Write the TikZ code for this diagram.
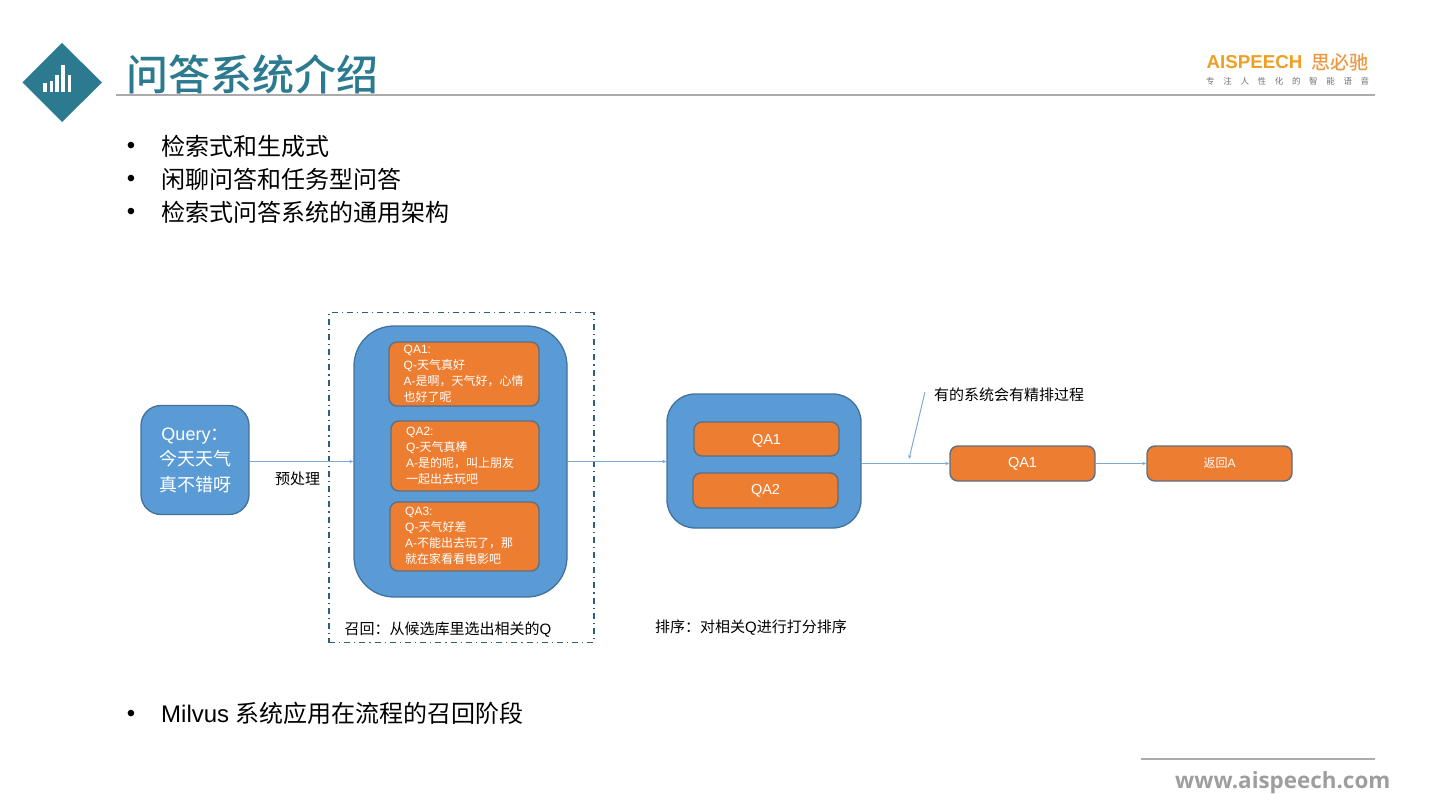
\documentclass[tikz,border=0pt]{standalone}
\usepackage{fontspec}
\setmainfont{Liberation Sans}
\newfontfamily\cj[BoldFont={Noto Sans CJK SC Medium}]{Noto Sans CJK SC}
\newfontfamily\webf{Open Sans}
\newcommand{\zh}[1]{{\cj #1}}
\newcommand{\fsz}[2]{\fontsize{#1}{#2}\selectfont}
\usetikzlibrary{arrows.meta}
\definecolor{teal1}{HTML}{2B7A90}
\definecolor{blue1}{HTML}{5B9BD5}
\definecolor{blueedge}{HTML}{41719C}
\definecolor{orange1}{HTML}{ED7D31}
\definecolor{orangeedge}{HTML}{5F6F80}
\definecolor{ruleg}{HTML}{ABABAB}
\definecolor{linkc}{HTML}{7FAAD0}
\definecolor{dashc}{HTML}{2F5F80}
\tikzset{
  x=1pt,y=-1pt,
  bluebox/.style={draw=blueedge,fill=blue1,line width=1.3pt,inner sep=0pt,text=white},
  orbox/.style={draw=orangeedge,fill=orange1,line width=1.4pt,inner sep=0pt,text=white,rounded corners=8pt},
  qatext/.style={align=left,font=\fsz{12}{15.9}},
  link/.style={draw=linkc,line width=1pt,-{Stealth[length=4pt,width=3.5pt]}},
  bullet/.style={anchor=base,font=\fsz{24}{24}},
  bullettext/.style={anchor=base west,inner sep=0pt,font=\fsz{24}{24}},
  lbl/.style={anchor=base west,inner sep=0pt,font=\fsz{15}{15},text=black},
}
\begin{document}
\begin{tikzpicture}
\useasboundingbox (0,0) rectangle (1440,810);
% header
\fill[teal1] (62,43) -- (102,82.5) -- (62,122) -- (22.5,82.5) -- cycle;
\foreach \a/\b/\t in {42.7/46.7/82.7,50/53.3/80.7,55.3/58.7/75.3,61.3/64.7/65,68/71.3/75.3}{\fill[white] (\a,91.7) rectangle (\b,\t);}
\node[anchor=base west,inner sep=0pt,text=teal1,font=\fsz{42}{42}\bfseries] (title) at (126,91) {\zh{问答系统介绍}};
\coordinate (ruleL) at (116,95.3);
\coordinate (ruleR) at (1375,95.3);
\draw[ruleg,line width=1.7pt] (ruleL) -- (ruleR);
% logo
\node[anchor=base west,inner sep=0pt,text=orange1!75!yellow,font=\fsz{18.7}{18.7}\bfseries] (logoA) at (1206.5,69) {AISPEECH};
\node[anchor=base west,inner sep=0pt,text=orange!60!brown!80!white,font=\fsz{19}{19}\bfseries] (logoB) at (1311,69.5) {\zh{思必驰}};
\node[anchor=base west,inner sep=0pt,text=black!55,font=\fsz{8.5}{8.5}] (logoC) at (1206,84.5) {\makebox[163pt][s]{\zh{专\hfill 注\hfill 人\hfill 性\hfill 化\hfill 的\hfill 智\hfill 能\hfill 语\hfill 音}}};
% bullets
\node[bullet] (b1) at (131,154) {•};
\node[bullet] (b2) at (131,187) {•};
\node[bullet] (b3) at (131,220) {•};
\node[bullet] (b4) at (131,721) {•};
\node[bullettext] (t1) at (161,156) {\zh{检索式和生成式}};
\node[bullettext] (t2) at (161,189) {\zh{闲聊问答和任务型问答}};
\node[bullettext] (t3) at (161,222) {\zh{检索式问答系统的通用架构}};
\node[bullettext] (t4) at (161,722) {Milvus \zh{系统应用在流程的召回阶段}};
% dashed frame
\node[draw=dashc,line width=1.4pt,dash pattern=on 6pt off 4pt on 1.2pt off 4pt,minimum width=265pt,minimum height=330pt,inner sep=0pt] (frame) at (461.5,477.5) {};
% query
\node[bluebox,rounded corners=20pt,minimum width=108pt,minimum height=109pt,align=center,font=\fsz{18}{25.5}] (q) at (195,460) {Query\zh{：}\\\zh{今天天气}\\\zh{真不错呀}};
% recall
\node[bluebox,rounded corners=40pt,minimum width=213pt,minimum height=271pt] (big) at (460.5,461.5) {};
\node[orbox,minimum width=150pt,minimum height=64pt] (a1) at (464,374) {};
\node[qatext,anchor=west,inner sep=0pt,text=white] (a1t) at (403.5,373.5) {QA1:\\Q-\zh{天气真好}\\A-\zh{是啊，天气好，心情}\\\zh{也好了呢}};
\node[orbox,minimum width=148pt,minimum height=70pt] (a2) at (465,456) {};
\node[qatext,anchor=west,inner sep=0pt,text=white] (a2t) at (406,456) {QA2:\\Q-\zh{天气真棒}\\A-\zh{是的呢，叫上朋友}\\\zh{一起出去玩吧}};
\node[orbox,minimum width=149pt,minimum height=69pt] (a3) at (464.5,536.5) {};
\node[qatext,anchor=west,inner sep=0pt,text=white] (a3t) at (405,535.5) {QA3:\\Q-\zh{天气好差}\\A-\zh{不能出去玩了，那}\\\zh{就在家看看电影吧}};
% rank
\node[bluebox,rounded corners=28pt,minimum width=194pt,minimum height=134pt] (rank) at (764,461) {};
\node[orbox,minimum width=145pt,minimum height=34pt,font=\fsz{14.5}{14.5},text depth=0pt,yshift=0pt] (r1) at (766.5,439) {\raisebox{-1pt}{QA1}};
\node[orbox,minimum width=145pt,minimum height=35pt,font=\fsz{14.5}{14.5}] (r2) at (765.5,490.5) {\raisebox{-1pt}{QA2}};
% result
\node[orbox,minimum width=145pt,minimum height=35pt,font=\fsz{14.5}{14.5}] (res) at (1022.5,463.5) {\raisebox{-1pt}{QA1}};
\node[orbox,minimum width=145pt,minimum height=35pt,font=\fsz{12}{12}] (ret) at (1219.5,463.5) {\zh{返回}A};
% connectors
\draw[link] (q.east |- big.west) -- (big.west);
\draw[link] (big.east) -- (big.east -| rank.west);
\draw[link] (rank.east |- res.west) -- (res.west);
\draw[link] (res.east) -- (ret.west);
\coordinate (noteA) at (925,392);
\coordinate (noteB) at (909,459);
\draw[link] (noteA) -- (noteB);
% labels
\node[lbl] (l1) at (275,484.5) {\zh{预处理}};
\node[lbl] (l2) at (934,400) {\zh{有的系统会有精排过程}};
\node[lbl] (l3) at (344.5,634) {\zh{召回：从候选库里选出相关的}Q};
\node[lbl] (l4) at (655,632) {\zh{排序：对相关}Q\zh{进行打分排序}};
% footer
\coordinate (footL) at (1141,759);
\coordinate (footR) at (1375,759);
\draw[ruleg,line width=1.7pt] (footL) -- (footR);
\node[anchor=base west,inner sep=0pt,text=black!38,font=\webf\fsz{22.4}{22.4}\bfseries] (web) at (1175,788) {www.aispeech.com};
\end{tikzpicture}
\end{document}
